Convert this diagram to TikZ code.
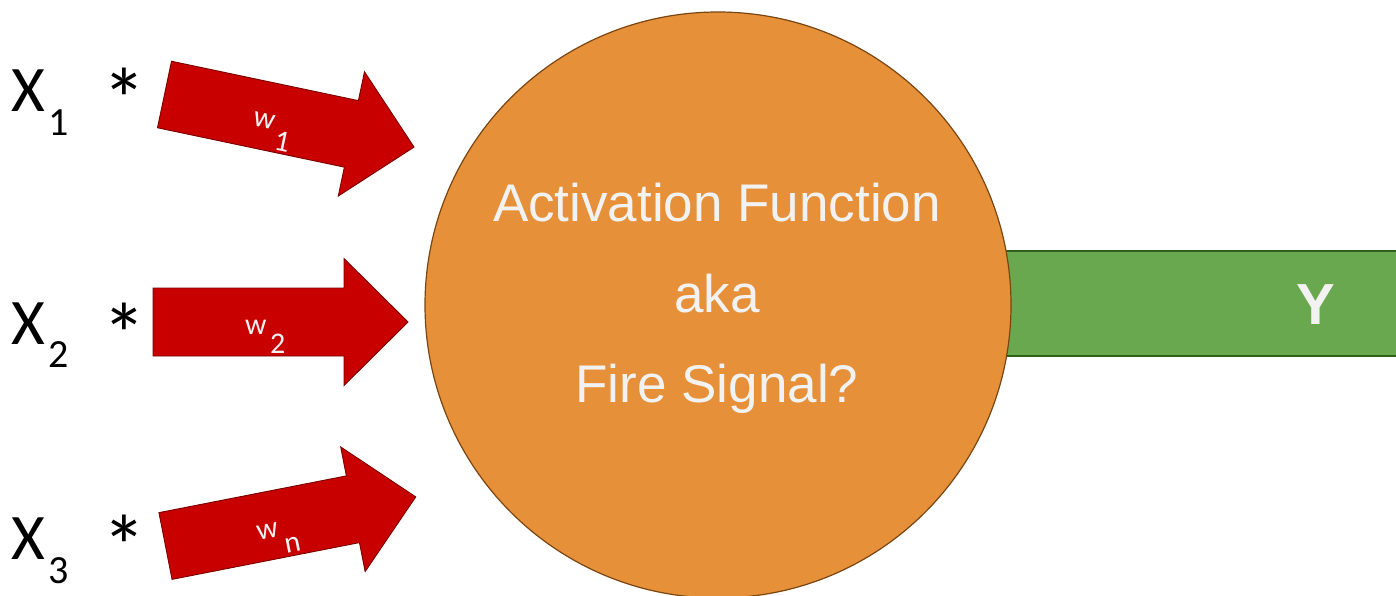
\documentclass[tikz,border=0pt]{standalone}
\usepackage{fontspec}
\setmainfont{Carlito}
\newfontfamily\arialfont{Liberation Sans}
\definecolor{neuronfill}{HTML}{E6913A}
\definecolor{neuronline}{HTML}{7A4510}
\definecolor{weightfill}{HTML}{C80000}
\definecolor{weightline}{HTML}{7A0000}
\definecolor{outfill}{HTML}{6AA84F}
\definecolor{outline}{HTML}{2F5F1A}
\definecolor{lighttext}{HTML}{F2F2F2}
\tikzset{
  neuron/.style={circle, fill=neuronfill, draw=neuronline, line width=1.2pt,
    minimum size=586pt, inner sep=0pt},
  outbar/.style={fill=outfill, draw=outline, line width=1.5pt},
  weightshape/.style={fill=weightfill, draw=weightline, line width=0.9pt},
  inlabel/.style={inner sep=0pt, font=\fontsize{65}{65}\selectfont},
  starlabel/.style={inner sep=0pt, anchor=north, font=\fontsize{88}{88}\selectfont},
  insub/.style={inner sep=0pt, anchor=base west, font=\fontsize{40}{40}\selectfont},
  wlabel/.style={inner sep=0pt, anchor=base west, text=lighttext, transform shape,
    font=\fontsize{30}{30}\selectfont},
  neurontext/.style={inner sep=0pt, anchor=base, text=lighttext,
    font=\arialfont\fontsize{53}{53}\selectfont},
  outtext/.style={inner sep=0pt, anchor=base, text=lighttext,
    font=\arialfont\bfseries\fontsize{58}{58}\selectfont},
}
% block arrow pointing along +x, tail centred on the origin
\newcommand\weightarrow{%
  \path[weightshape] (0,-34) -- (191,-34) -- (191,-63.5) -- (255,0)
    -- (191,63.5) -- (191,34) -- (0,34) -- cycle;}
\begin{document}
\begin{tikzpicture}[x=1pt,y=-1pt]
\clip (0,0) rectangle (1396,595);
\fill[white] (0,0) rectangle (1396,595);

% output signal
\path[outbar] (900,251) rectangle (1402,356);
\node[outtext] (y) at (1316,324) {Y};

% the neuron
\node[neuron] (neuron) at (718,305) {};
\node[neurontext] (act) at (717,221) {Activation Function};
\node[neurontext] (aka) at (717,312) {aka};
\node[neurontext] (fire) at (717,402) {Fire Signal?};

% inputs
\node[inlabel, anchor=north west] (x1) at (11,70) {X};
\node[insub] (x1s) at (48,135) {1};
\node[starlabel] (a1) at (124.5,68) {*};

\node[inlabel, anchor=north west] (x2) at (11,303) {X};
\node[insub] (x2s) at (48,367) {2};
\node[starlabel] (a2) at (124.5,303) {*};

\node[inlabel, anchor=north west] (x3) at (11,518) {X};
\node[insub] (x3s) at (48,583) {3};
\node[starlabel] (a3) at (124.5,515) {*};

% weights
\begin{scope}[shift={(164.5,94.5)}, rotate=-11.9]
  \weightarrow
  \node[wlabel] (w1) at (92,12) {w};
  \node[wlabel] (w1s) at (117,31) {1};
\end{scope}
\begin{scope}[shift={(153,322)}]
  \weightarrow
  \node[wlabel] (w2) at (92,12) {w};
  \node[wlabel] (w2s) at (117,31) {2};
\end{scope}
\begin{scope}[shift={(165.5,546)}, rotate=11.1]
  \weightarrow
  \node[wlabel] (wn) at (92,12) {w};
  \node[wlabel] (wns) at (117,31) {n};
\end{scope}
\end{tikzpicture}
\end{document}
